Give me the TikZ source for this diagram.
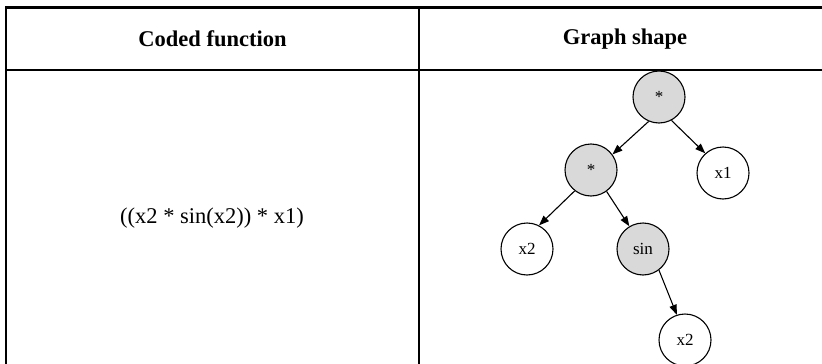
\documentclass[tikz,border=0pt]{standalone}
\usepackage{fontspec}
\setmainfont{Liberation Serif}
\usetikzlibrary{arrows.meta}
\definecolor{nodegray}{HTML}{D9D9D9}
\begin{document}
\begin{tikzpicture}[x=1pt,y=1pt,
  rule/.style={line width=2.2pt},
  gnode/.style={circle,draw,line width=1.1pt,minimum size=52pt,inner sep=0pt,font=\fontsize{17}{17}\selectfont},
  opnode/.style={gnode,fill=nodegray},
  leafnode/.style={gnode,fill=white},
  edge/.style={line width=1.1pt,-{Triangle[length=10pt,width=7.5pt]}},
  header/.style={font=\fontsize{22.5}{24}\selectfont\bfseries},
  cell/.style={font=\fontsize{22.5}{24}\selectfont}]
\useasboundingbox (0,0) rectangle (822,-364);
% table rules
\coordinate (tl) at (6,-7.5);
\coordinate (tr) at (822,-7.5);
\coordinate (hl) at (6,-70);
\coordinate (hr) at (822,-70);
\coordinate (bl) at (6,-364);
\coordinate (mt) at (419,-7.5);
\coordinate (mb) at (419,-364);
\draw[rule] (bl) -- (tl) -- (tr);
\draw[rule] (hl) -- (hr);
\draw[rule] (mt) -- (mb);
% headers
\node[header] (h1) at (212.5,-39) {Coded function};
\node[header] (h2) at (625,-39) {Graph shape};
\node[cell] (f) at (212,-218) {((x2 * sin(x2)) * x1)};
% graph
\node[opnode] (root) at (659,-97) {*};
\node[opnode] (m) at (591,-170) {*};
\node[leafnode] (x1) at (723,-173) {x1};
\node[leafnode] (x2a) at (527,-249) {x2};
\node[opnode] (sin) at (643,-249) {sin};
\node[leafnode] (x2b) at (685,-340) {x2};
\draw[edge] (root.-113) -- (m.36);
\draw[edge] (root.-62) -- (x1.132);
\draw[edge] (m.232) -- (x2a.63);
\draw[edge] (m.-54) -- (sin.121);
\draw[edge] (sin.-53) -- (x2b.108);
\end{tikzpicture}
\end{document}
